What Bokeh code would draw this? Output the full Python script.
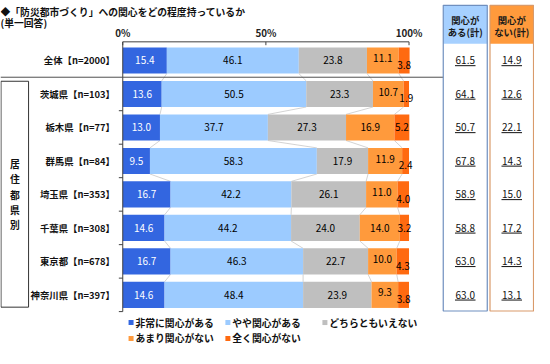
from bokeh.plotting import figure
from bokeh.models import Range1d
from bokeh.embed import file_html
from bokeh.resources import INLINE
from bokeh.core.properties import value
import numpy as np

# ---------------- data ----------------
title = "◆「防災都市づくり」への関心をどの程度持っているか"
subtitle = "(単一回答)"
rows = ["全体【n=2000】", "茨城県【n=103】", "栃木県【n=77】", "群馬県【n=84】",
        "埼玉県【n=353】", "千葉県【n=308】", "東京都【n=678】", "神奈川県【n=397】"]
series = ["非常に関心がある", "やや関心がある", "どちらともいえない", "あまり関心がない", "全く関心がない"]
very = [15.4, 13.6, 13.0, 9.5, 16.7, 14.6, 16.7, 14.6]
some = [46.1, 50.5, 37.7, 58.3, 42.2, 44.2, 46.3, 48.4]
neutral = [23.8, 23.3, 27.3, 17.9, 26.1, 24.0, 22.7, 23.9]
notmuch = [11.1, 10.7, 16.9, 11.9, 11.0, 14.0, 10.0, 9.3]
notatall = [3.8, 1.9, 5.2, 2.4, 4.0, 3.2, 4.3, 3.8]
interested = [61.5, 64.1, 50.7, 67.8, 58.9, 58.8, 63.0, 63.0]
not_interested = [14.9, 12.6, 22.1, 14.3, 15.0, 17.2, 14.3, 13.1]
x_ticks = [0, 50, 100]
x_tick_labels = ["0%", "50%", "100%"]
group_label = "居住都県別"
sum_header_pos = ["関心が", "ある(計)"]
sum_header_neg = ["関心が", "ない(計)"]

# ---------------- style ----------------
colors = ["#3366E0", "#9CCBFF", "#BFBFBF", "#FF9A3C", "#FF6A10"]
label_colors = ["white", "black", "black", "black", "black"]
FONT = value("Noto Sans CJK JP")

W, H = 534, 348
SX = W / 546.0
X0, X100 = 129.0, 421.7
Y0, DY = 63.4, 34.83
YTOP, YBOT = 1.0, 363.0


def px(rx):
    return (rx - X0) / (X100 - X0) * 100.0


def py(ry):
    return (ry - Y0) / DY


def fs(ref):
    return f"{ref * 0.975:.1f}px"


p = figure(width=W, height=H, output_backend="svg", toolbar_location=None,
           x_axis_location=None, y_axis_location=None, min_border=0,
           x_range=Range1d(px(4), px(550)), y_range=Range1d(py(YBOT), py(YTOP)))
p.outline_line_color = None
p.xgrid.visible = False
p.ygrid.visible = False
p.background_fill_color = "white"
p.border_fill_color = "white"

vals = np.array([very, some, neutral, notmuch, notatall])  # (5, 8)
n = len(rows)
idx = np.arange(n)
cum = np.vstack([np.zeros(n), np.cumsum(vals, axis=0)])  # (6, 8)
BH = 0.78

# connectors between bars
cx0, cy0, cx1, cy1 = [], [], [], []
for i in range(n - 1):
    for k in range(1, 5):
        cx0.append(cum[k][i]); cy0.append(i + BH / 2)
        cx1.append(cum[k][i + 1]); cy1.append(i + 1 - BH / 2)
p.segment(x0=cx0, y0=cy0, x1=cx1, y1=cy1, line_color="#C8C8C8", line_width=0.8)

# bars
for k in range(5):
    p.hbar(y=idx, left=cum[k], right=cum[k + 1], height=BH, fill_color=colors[k],
           line_color=None)

# bar value labels
for k in range(5):
    xs = (cum[k] + cum[k + 1]) / 2
    ys = []
    for i in range(n):
        off = 0.0
        if notmuch[i] < 12:
            if k == 3:
                off = -2.5 / DY
            elif k == 4:
                off = 4.5 / DY
        ys.append(i + off)
    p.text(x=xs, y=ys, text=[f"{v:.1f}" for v in vals[k]], text_font=FONT,
           text_font_size=fs(10.3), text_color=label_colors[k],
           text_align="center", text_baseline="middle")

# axes (drawn through the scales)
p.segment(x0=[0], y0=[py(44)], x1=[0], y1=[py(324.6)], line_color="#404040", line_width=1)
p.segment(x0=[0], y0=[py(44)], x1=[100], y1=[py(44)], line_color="#404040", line_width=1)
p.segment(x0=x_ticks, y0=[py(44)] * 3, x1=x_ticks, y1=[py(47.5)] * 3,
          line_color="#404040", line_width=1)
tick_y = [i + 0.5 for i in range(1, n)]
p.segment(x0=[px(125)] * len(tick_y), y0=tick_y, x1=[0] * len(tick_y), y1=tick_y,
          line_color="#404040", line_width=1)
p.text(x=x_ticks, y=[py(35)] * 3, text=x_tick_labels, text_font=FONT,
       text_font_size=fs(10), text_font_style="bold", text_color="#222222",
       text_align="center", text_baseline="middle")

# separator under 全体
p.segment(x0=[px(4)], y0=[0.5], x1=[px(456.7)], y1=[0.5], line_color="#505050", line_width=1)

# row labels
p.text(x=[px(121)] * n, y=idx, text=rows, text_font=FONT, text_font_size=fs(9.6),
       text_font_style="bold", text_color="#111111", text_align="right",
       text_baseline="middle")

# title
p.text(x=[px(4)], y=[py(12.5)], text=[title], text_font=FONT, text_font_size=fs(10),
       text_font_style="bold", text_color="#111111", text_align="left", text_baseline="middle")
p.text(x=[px(4)], y=[py(24.5)], text=[subtitle], text_font=FONT, text_font_size=fs(10),
       text_font_style="bold", text_color="#111111", text_align="left", text_baseline="middle")

# group box
p.quad(left=[px(4.5)], right=[px(32.7)], top=[py(85)], bottom=[py(320)],
       fill_color=None, line_color="#333333", line_width=1)
p.text(x=[px(18.6)], y=[py(203)], text=["\n".join(group_label)], text_font=FONT,
       text_font_size=fs(10), text_font_style="bold", text_color="#111111",
       text_align="center", text_baseline="middle", text_line_height=1.1)

# summary boxes
boxes = [
    (456.7, 501.7, "#A6D0FF", "#6F8FBF", sum_header_pos, interested),
    (504.5, 549.0, "#FF9A3C", "#D99A6A", sum_header_neg, not_interested),
]
for (l, r, hfill, bcol, hdr, vals_s) in boxes:
    p.quad(left=[px(l)], right=[px(r)], top=[py(6)], bottom=[py(46)],
           fill_color=hfill, line_color=None)
    p.quad(left=[px(l)], right=[px(r)], top=[py(6)], bottom=[py(324)],
           fill_color=None, line_color=bcol, line_width=1.2)
    cxm = (l + r) / 2
    p.text(x=[px(cxm)] * 2, y=[py(21), py(33.5)], text=hdr, text_font=FONT,
           text_font_size=fs(9.6), text_font_style="bold", text_color="#1A1A1A",
           text_align="center", text_baseline="middle")
    p.text(x=[px(cxm)] * n, y=idx, text=[f"{v:.1f}" for v in vals_s], text_font=FONT,
           text_font_size=fs(10.3), text_color="#111111", text_align="center",
           text_baseline="middle")
    p.segment(x0=[px(cxm - 10.5)] * n, y0=idx + 5.4 / DY, x1=[px(cxm + 10.5)] * n,
              y1=idx + 5.4 / DY, line_color="#111111", line_width=1)

# legend
leg_col = [0, 1, 2, 0, 1]
leg_row = [0, 0, 0, 1, 1]
col_x = [137.5, 236.5, 335.7]
row_y = [336.0, 352.5]
mx = [px(col_x[c]) for c in leg_col]
my = [py(row_y[r]) for r in leg_row]
p.scatter(x=mx, y=my, marker="square", size=5, fill_color=colors, line_color=None)
tx = [px(col_x[c] + 4.5) for c in leg_col]
p.text(x=tx, y=my, text=series, text_font=FONT, text_font_size=fs(10),
       text_font_style="bold", text_color="#111111", text_align="left",
       text_baseline="middle")

open("out.html", "w").write(file_html(p, INLINE))
